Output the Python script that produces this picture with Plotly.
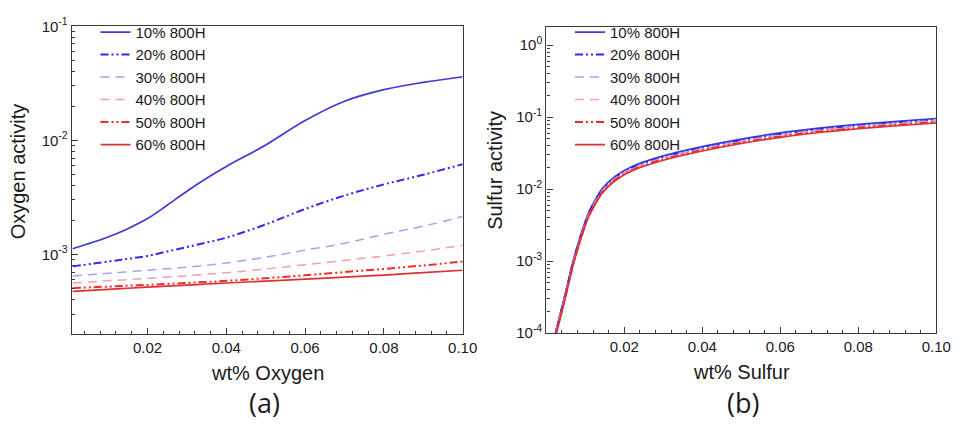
import plotly.graph_objects as go

# ---------------- data ----------------
series_names = ["10% 800H", "20% 800H", "30% 800H", "40% 800H", "50% 800H", "60% 800H"]

oxy_x = [0.001, 0.01, 0.015, 0.02, 0.025, 0.03, 0.035, 0.04, 0.05, 0.06, 0.07, 0.08, 0.09, 0.10]
oxy_10 = [1.12e-3, 1.42e-3, 1.68e-3, 2.06e-3, 2.70e-3, 3.58e-3, 4.65e-3, 5.90e-3, 9.10e-3, 1.49e-2, 2.20e-2, 2.78e-2, 3.22e-2, 3.61e-2]
oxy_20 = [7.85e-4, 8.65e-4, 9.15e-4, 9.70e-4, 1.06e-3, 1.16e-3, 1.27e-3, 1.40e-3, 1.83e-3, 2.50e-3, 3.28e-3, 4.11e-3, 4.99e-3, 6.18e-3]
oxy_30 = [6.47e-4, 6.82e-4, 7.04e-4, 7.27e-4, 7.48e-4, 7.71e-4, 8.03e-4, 8.39e-4, 9.45e-4, 1.09e-3, 1.25e-3, 1.50e-3, 1.77e-3, 2.15e-3]
oxy_40 = [5.61e-4, 5.87e-4, 6.01e-4, 6.15e-4, 6.32e-4, 6.50e-4, 6.70e-4, 6.90e-4, 7.45e-4, 8.12e-4, 8.85e-4, 9.68e-4, 1.07e-3, 1.20e-3]
oxy_50 = [5.06e-4, 5.22e-4, 5.31e-4, 5.40e-4, 5.51e-4, 5.62e-4, 5.74e-4, 5.86e-4, 6.18e-4, 6.56e-4, 7.00e-4, 7.46e-4, 8.00e-4, 8.65e-4]
oxy_60 = [4.73e-4, 4.94e-4, 5.05e-4, 5.16e-4, 5.27e-4, 5.38e-4, 5.50e-4, 5.61e-4, 5.83e-4, 6.07e-4, 6.32e-4, 6.59e-4, 6.91e-4, 7.26e-4]

sul_x = [0.0023, 0.0046, 0.0068, 0.0089, 0.011, 0.0143, 0.0177, 0.022, 0.03, 0.04, 0.05, 0.06, 0.07, 0.08, 0.09, 0.10]
sul_10 = [1.00e-4, 3.10e-4, 9.80e-4, 2.40e-3, 4.95e-3, 1.01e-2, 1.52e-2, 2.07e-2, 2.90e-2, 3.90e-2, 4.95e-2, 6.05e-2, 7.05e-2, 7.95e-2, 8.75e-2, 9.60e-2]
sul_20 = [0.97e-4, 3.00e-4, 9.50e-4, 2.33e-3, 4.80e-3, 9.80e-3, 1.47e-2, 2.01e-2, 2.81e-2, 3.78e-2, 4.80e-2, 5.87e-2, 6.84e-2, 7.71e-2, 8.49e-2, 9.31e-2]
sul_30 = [0.945e-4, 2.93e-4, 9.26e-4, 2.27e-3, 4.68e-3, 9.54e-3, 1.44e-2, 1.96e-2, 2.74e-2, 3.69e-2, 4.68e-2, 5.72e-2, 6.66e-2, 7.51e-2, 8.27e-2, 9.07e-2]
sul_40 = [0.92e-4, 2.85e-4, 9.00e-4, 2.21e-3, 4.55e-3, 9.30e-3, 1.40e-2, 1.90e-2, 2.67e-2, 3.59e-2, 4.55e-2, 5.57e-2, 6.49e-2, 7.31e-2, 8.05e-2, 8.83e-2]
sul_50 = [0.895e-4, 2.77e-4, 8.77e-4, 2.15e-3, 4.43e-3, 9.04e-3, 1.36e-2, 1.85e-2, 2.60e-2, 3.49e-2, 4.43e-2, 5.41e-2, 6.31e-2, 7.12e-2, 7.83e-2, 8.59e-2]
sul_60 = [0.87e-4, 2.70e-4, 8.53e-4, 2.09e-3, 4.31e-3, 8.79e-3, 1.32e-2, 1.80e-2, 2.52e-2, 3.39e-2, 4.31e-2, 5.26e-2, 6.13e-2, 6.92e-2, 7.61e-2, 8.35e-2]

x_tickvals = [0.02, 0.04, 0.06, 0.08, 0.10]
x_ticktext = ["0.02", "0.04", "0.06", "0.08", "0.10"]
y1_tickvals = [1e-3, 1e-2, 1e-1]
y1_ticktext = ["10<sup>-3</sup>", "10<sup>-2</sup>", "10<sup>-1</sup>"]
y2_tickvals = [1e-4, 1e-3, 1e-2, 1e-1, 1]
y2_ticktext = ["10<sup>-4</sup>", "10<sup>-3</sup>", "10<sup>-2</sup>", "10<sup>-1</sup>", "10<sup>0</sup>"]

# ---------------- styles ----------------
colors = ["#3b3bd6", "#2b2bf5", "#a3a3ee", "#f2a0aa", "#f42a2a", "#e03030"]
dashes = ["solid", "8px,3px,2px,3px,2px,3px", "9px,6px", "9px,6px",
          "8px,3px,2px,3px,2px,3px", "solid"]
widths = [1.7, 2.0, 1.5, 1.5, 2.0, 1.7]

oxy_sets = [oxy_10, oxy_20, oxy_30, oxy_40, oxy_50, oxy_60]
sul_sets = [sul_10, sul_20, sul_30, sul_40, sul_50, sul_60]

fig = go.Figure()
for name, ys, c, d, w in zip(series_names, oxy_sets, colors, dashes, widths):
    fig.add_trace(go.Scatter(x=oxy_x, y=ys, mode="lines", name=name,
                             line=dict(color=c, dash=d, width=w, shape="spline", smoothing=1.0),
                             xaxis="x", yaxis="y", legend="legend"))
for name, ys, c, d, w in zip(series_names, sul_sets, colors, dashes, widths):
    fig.add_trace(go.Scatter(x=sul_x, y=ys, mode="lines", name=name,
                             line=dict(color=c, dash=d, width=w, shape="spline", smoothing=0.6),
                             xaxis="x2", yaxis="y2", legend="legend2"))

W, H = 966, 431
FONT = "Liberation Sans, Arial, sans-serif"
TICKC = "#3a3a3a"
axis_common = dict(showline=True, mirror=True, linecolor=TICKC, linewidth=1.3,
                   showgrid=False, zeroline=False, ticks="inside",
                   tickcolor=TICKC, tickfont=dict(family=FONT, size=15, color="#1a1a1a"))

xcommon = dict(axis_common, tickmode="array", tickvals=x_tickvals, ticktext=x_ticktext,
               ticklen=6, tickwidth=1.2,
               minor=dict(ticks="inside", ticklen=3, tickcolor=TICKC, tickmode="linear",
                          tick0=0, dtick=0.004, showgrid=False))

def minor_log(lo_exp, hi_exp):
    return [m * 10 ** e for e in range(lo_exp, hi_exp) for m in range(2, 10)]

def ylog(tv, tt, minor_vals, rng, dom, anchor):
    return dict(axis_common, type="log", tickmode="array", tickvals=tv, ticktext=tt,
                ticklen=6, tickwidth=1.2, range=rng, domain=dom, anchor=anchor,
                minor=dict(ticks="inside", ticklen=3, tickcolor=TICKC, tickmode="array",
                           tickvals=minor_vals, showgrid=False))

def px2fx(p):
    return p / W

def py2fy(p):
    return 1 - p / H

leg_common = dict(xanchor="left", yanchor="top", bgcolor="rgba(0,0,0,0)",
                  font=dict(family=FONT, size=15, color="#1a1a1a"),
                  tracegroupgap=0, itemwidth=30)

fig.update_layout(
    width=W, height=H, margin=dict(l=0, r=0, t=0, b=0),
    paper_bgcolor="white", plot_bgcolor="white",
    font=dict(family=FONT, color="#1a1a1a"),
    xaxis=dict(xcommon, domain=[px2fx(73), px2fx(470)], range=[0.0008, 0.1], anchor="y"),
    yaxis=ylog(y1_tickvals, y1_ticktext, minor_log(-4, -1), [-3.699, -1],
               [py2fy(338), py2fy(16)], "x"),
    xaxis2=dict(xcommon, domain=[px2fx(555), px2fx(951)], range=[0.0, 0.1], anchor="y2"),
    yaxis2=ylog(y2_tickvals, y2_ticktext, minor_log(-4, 1), [-4, 0.25],
                [py2fy(337), py2fy(17)], "x2"),
    legend=dict(leg_common, x=px2fx(97), y=py2fy(5)),
    legend2=dict(leg_common, x=px2fx(579), y=py2fy(5)),
    showlegend=True,
)

ann = []
def add_text(text, x, y, size, angle=0, family=FONT):
    ann.append(dict(text=text, x=px2fx(x), y=py2fy(y), xref="paper", yref="paper",
                    xanchor="center", yanchor="middle", showarrow=False, textangle=angle,
                    font=dict(family=family, size=size, color="#1a1a1a")))

add_text("Oxygen activity", 18, 168, 20, -90)
add_text("Sulfur activity", 502, 167, 20, -90)
add_text("wt% Oxygen", 272, 379, 20)
add_text("wt% Sulfur", 753, 378, 20)
add_text("(a)", 269, 410, 27, family="Open Sans, sans-serif")
add_text("(b)", 755, 410, 27, family="Open Sans, sans-serif")
fig.update_layout(annotations=ann)

fig.write_html("out.html")
